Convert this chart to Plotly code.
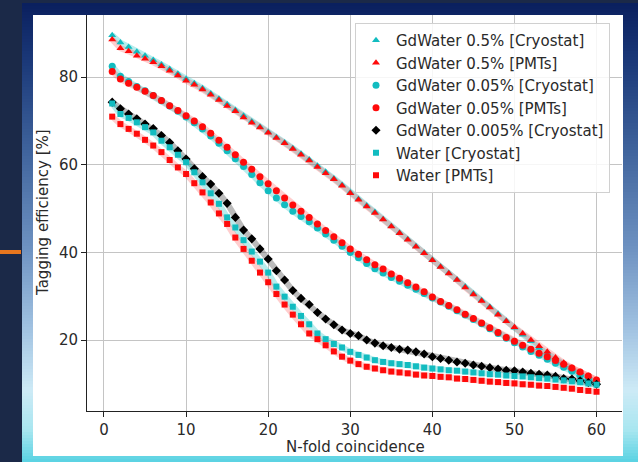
import plotly.graph_objects as go

# ---------------- data ----------------
n_fold = list(range(1, 61))

gd05_cryostat = [89.6, 87.9, 86.9, 85.8, 84.9, 83.9, 82.9, 81.9, 80.8, 79.6,
                 78.6, 77.5, 76.3, 75.1, 73.8, 72.5, 71.2, 69.9, 68.7, 67.5,
                 66.3, 65.1, 63.8, 62.5, 61.2, 59.8, 58.4, 56.9, 55.4, 53.7,
                 52.2, 50.7, 49.2, 47.6, 46.0, 44.5, 43.0, 41.4, 39.9, 38.3,
                 36.8, 35.3, 33.8, 32.2, 30.6, 29.1, 27.6, 26.0, 24.4, 22.8,
                 21.2, 19.7, 18.2, 16.9, 15.6, 14.3, 13.2, 12.1, 11.2, 10.3]
gd05_pmts = [88.6, 86.6, 85.9, 84.9, 84.2, 83.4, 82.5, 81.5, 80.4, 79.2,
             78.3, 77.2, 76.0, 74.8, 73.4, 72.2, 70.8, 69.6, 68.5, 67.3,
             66.1, 64.9, 63.6, 62.3, 61.0, 59.5, 58.1, 56.7, 55.2, 53.5,
             52.0, 50.5, 49.0, 47.5, 45.9, 44.4, 42.9, 41.3, 39.8, 38.2,
             36.7, 35.2, 33.7, 32.0, 30.4, 28.9, 27.4, 25.8, 24.3, 22.9,
             21.5, 20.0, 18.6, 17.3, 16.0, 14.8, 13.7, 12.7, 11.8, 10.9]
gd005_cryostat = [82.5, 80.2, 79.0, 77.9, 76.9, 75.8, 74.6, 73.4, 72.2, 70.9,
                  69.6, 68.2, 66.6, 64.9, 63.2, 61.4, 59.6, 57.8, 55.9, 54.1,
                  52.4, 50.9, 49.4, 48.2, 47.0, 45.6, 44.2, 42.8, 41.4, 40.0,
                  38.8, 37.5, 36.3, 35.3, 34.3, 33.4, 32.5, 31.6, 30.6, 29.6,
                  28.7, 27.7, 26.7, 25.7, 24.7, 23.7, 22.6, 21.5, 20.4, 19.4,
                  18.4, 17.4, 16.5, 15.6, 14.7, 13.8, 12.9, 11.9, 11.0, 10.0]
gd005_pmts = [81.3, 79.6, 78.6, 77.7, 76.8, 75.8, 74.7, 73.5, 72.4, 71.2,
              70.0, 68.7, 67.2, 65.6, 64.0, 62.3, 60.6, 59.0, 57.3, 55.7,
              54.1, 52.4, 50.8, 49.4, 48.0, 46.5, 45.0, 43.6, 42.2, 40.8,
              39.6, 38.3, 37.2, 36.2, 35.1, 34.1, 33.1, 32.1, 31.0, 29.8,
              28.8, 27.9, 26.9, 25.9, 24.9, 23.9, 22.8, 21.7, 20.6, 19.7,
              18.8, 17.9, 17.0, 16.2, 15.3, 14.5, 13.6, 12.7, 11.8, 10.9]
gd0005_cryostat = [74.3, 72.8, 71.6, 70.5, 69.3, 68.3, 66.7, 65.1, 63.2, 61.3,
                   59.1, 57.3, 55.6, 53.5, 51.2, 48.0, 45.1, 43.1, 40.8, 38.5,
                   35.8, 33.7, 31.3, 29.5, 28.1, 26.3, 24.8, 23.5, 22.3, 21.5,
                   21.0, 20.0, 19.3, 18.7, 18.3, 17.9, 17.7, 17.3, 16.8, 16.2,
                   15.8, 15.4, 15.0, 14.7, 14.3, 14.0, 13.7, 13.4, 13.1, 13.0,
                   12.7, 12.4, 12.2, 12.0, 11.7, 11.2, 11.1, 10.7, 10.3, 9.9]
water_cryostat = [74.0, 71.6, 70.7, 69.7, 68.6, 67.4, 65.5, 64.0, 62.3, 60.6,
                  58.3, 56.0, 53.5, 51.1, 48.0, 45.7, 42.8, 40.2, 37.9, 35.4,
                  32.2, 29.9, 27.6, 25.5, 23.6, 21.5, 20.2, 19.1, 18.3, 17.3,
                  16.6, 16.0, 15.4, 15.0, 14.7, 14.5, 14.3, 14.0, 13.7, 13.5,
                  13.3, 13.1, 13.0, 12.8, 12.6, 12.4, 12.2, 12.1, 11.9, 11.8,
                  11.7, 11.5, 11.3, 11.2, 11.0, 10.8, 10.6, 10.4, 10.1, 9.8]
water_pmts = [71.0, 69.3, 68.2, 67.1, 65.7, 64.4, 62.9, 61.1, 59.4, 57.9,
              55.8, 53.7, 51.4, 48.9, 46.5, 43.4, 40.8, 38.1, 35.4, 33.2,
              30.5, 28.1, 25.8, 23.6, 21.5, 20.2, 18.8, 17.4, 16.2, 15.3,
              14.5, 13.9, 13.5, 13.1, 12.8, 12.6, 12.4, 12.1, 11.9, 11.8,
              11.6, 11.5, 11.2, 11.1, 10.9, 10.7, 10.5, 10.4, 10.2, 10.1,
              9.9, 9.8, 9.6, 9.5, 9.3, 9.1, 8.9, 8.6, 8.4, 8.2]

series_names = ["GdWater 0.5% [Cryostat]", "GdWater 0.5% [PMTs]",
                "GdWater 0.05% [Cryostat]", "GdWater 0.05% [PMTs]",
                "GdWater 0.005% [Cryostat]", "Water [Cryostat]", "Water [PMTs]"]
series_values = [gd05_cryostat, gd05_pmts, gd005_cryostat, gd005_pmts,
                 gd0005_cryostat, water_cryostat, water_pmts]

x_ticks = [0, 10, 20, 30, 40, 50, 60]
y_ticks = [20, 40, 60, 80]
x_title = "N-fold coincidence"
y_title = "Tagging efficiency [%]"

# ---------------- style ----------------
CYAN = "#12bcc0"
RED = "#ff0a0a"
BLACK = "#000000"
colors = [CYAN, RED, CYAN, RED, BLACK, CYAN, RED]
band_colors = ["rgba(0,191,191,0.28)", "rgba(255,60,60,0.25)",
               "rgba(0,191,191,0.28)", "rgba(255,60,60,0.25)",
               "rgba(60,60,60,0.35)", "rgba(0,191,191,0.28)", "rgba(255,60,60,0.25)"]
symbols = ["triangle-up", "triangle-up", "circle", "circle", "diamond", "square", "square"]
sizes = [7, 7, 7, 7, 7, 6, 6]

W, H = 638, 462
PL, PR, PT, PB = 87, 622, 15, 411   # plot area in pixels


def px(xp):
    return (xp - PL) / (PR - PL)


def py(yp):
    return (PB - yp) / (PB - PT)


fig = go.Figure()

for vals, bc in zip(series_values, band_colors):
    fig.add_trace(go.Scatter(x=n_fold, y=vals, mode="lines",
                             line=dict(color=bc, width=6),
                             showlegend=False, hoverinfo="skip"))

for name, vals, c, s, sz in zip(series_names, series_values, colors, symbols, sizes):
    fig.add_trace(go.Scatter(x=n_fold, y=vals, mode="markers", name=name,
                             marker=dict(color=c, symbol=s, size=sz, line=dict(width=0))))

# ---------------- background decoration ----------------
stops = [(3, (10, 31, 94)), (60, (26, 56, 120)), (150, (63, 99, 156)),
         (250, (111, 147, 194)), (330, (162, 195, 226)), (390, (205, 234, 246)),
         (430, (168, 230, 240)), (462, (88, 210, 226))]


def col_at(y):
    for (y0, c0), (y1, c1) in zip(stops[:-1], stops[1:]):
        if y0 <= y <= y1:
            t = (y - y0) / (y1 - y0)
            return "rgb(%d,%d,%d)" % tuple(round(a + (b - a) * t) for a, b in zip(c0, c1))
    return "rgb(%d,%d,%d)" % stops[-1][1]


shapes = []
step = 3
y = 3
while y < 462:
    shapes.append(dict(type="rect", xref="paper", yref="paper", layer="below",
                       x0=px(22), x1=px(640), y0=py(y), y1=py(min(y + step + 0.6, 463)),
                       fillcolor=col_at(y + step / 2), line=dict(width=0)))
    y += step
# white figure area
shapes.append(dict(type="rect", xref="paper", yref="paper", layer="below",
                   x0=px(33), x1=px(623), y0=py(15), y1=py(456),
                   fillcolor="white", line=dict(width=0)))
# orange slide accent at left
shapes.append(dict(type="rect", xref="paper", yref="paper", layer="below",
                   x0=px(0), x1=px(21), y0=py(250), y1=py(254),
                   fillcolor="#e8761e", line=dict(width=0)))

annotations = [
    dict(text=x_title, xref="paper", yref="paper", x=px(355), y=py(447),
         xanchor="center", yanchor="middle", showarrow=False,
         font=dict(family="DejaVu Sans", size=15, color="#2a2a2a")),
    dict(text=y_title, xref="paper", yref="paper", x=px(43), y=py(213),
         xanchor="center", yanchor="middle", showarrow=False, textangle=-90,
         font=dict(family="DejaVu Sans", size=15, color="#2a2a2a")),
]

fig.update_layout(
    width=W, height=H,
    margin=dict(l=PL, r=W - PR, t=PT, b=H - PB, pad=0),
    paper_bgcolor="#1b2948",
    plot_bgcolor="white",
    font=dict(family="DejaVu Sans", size=15, color="#2a2a2a"),
    shapes=shapes,
    annotations=annotations,
    showlegend=True,
    legend=dict(x=px(355), y=py(23), xanchor="left", yanchor="top",
                bgcolor="rgba(255,255,255,0.85)", bordercolor="#d0d0d0", borderwidth=1,
                font=dict(family="DejaVu Sans", size=15, color="#2a2a2a"),
                traceorder="normal", tracegroupgap=0, itemwidth=30),
    xaxis=dict(range=[-2.07, 63.1], tickvals=x_ticks, ticks="outside", ticklen=5,
               tickcolor="#222", showline=True, linecolor="#222", linewidth=1,
               mirror=False, showgrid=True, gridcolor="#c4c4c4", gridwidth=1,
               zeroline=False, tickfont=dict(size=15), automargin=False),
    yaxis=dict(range=[3.8, 94.2], tickvals=y_ticks, ticks="outside", ticklen=5,
               tickcolor="#222", showline=True, linecolor="#222", linewidth=1,
               mirror=False, showgrid=True, gridcolor="#c4c4c4", gridwidth=1,
               zeroline=False, tickfont=dict(size=15), automargin=False),
)

fig.write_html("out.html")
